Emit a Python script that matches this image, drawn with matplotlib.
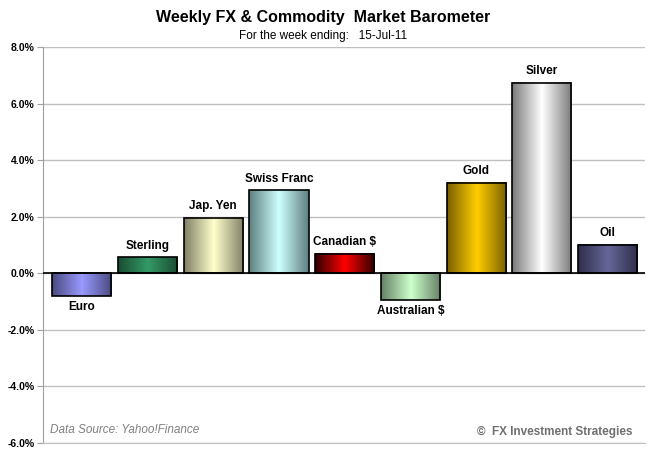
import numpy as np
import matplotlib
matplotlib.use("Agg")
import matplotlib.pyplot as plt
from matplotlib.colors import LinearSegmentedColormap

names = ["Euro", "Sterling", "Jap. Yen", "Swiss Franc", "Canadian $",
         "Australian $", "Gold", "Silver", "Oil"]
changes = [-0.81, 0.56, 1.97, 2.93, 0.68, -0.94, 3.20, 6.72, 1.00]
edge_cols = ["#4a4a80", "#1a4d33", "#808066", "#5f7f7f", "#300000",
             "#668066", "#7a6200", "#7a7a7a", "#2e2e4a"]
mid_cols = ["#9999ff", "#339966", "#ffffcc", "#ccffff", "#ff0000",
            "#ccffcc", "#ffcc00", "#ffffff", "#666699"]
yticks = [-6, -4, -2, 0, 2, 4, 6, 8]

plt.rcParams['font.family'] = ['Liberation Sans', 'DejaVu Sans']

fig = plt.figure(figsize=(6.47, 4.58), dpi=100)
ax = fig.add_axes([0.0665, 0.0328, 0.9305, 0.8646])

width = 0.9
x = np.arange(len(names))
grad = 1 - np.abs(np.linspace(-1, 1, 200))[None, :]

for i, v in enumerate(changes):
    cmap = LinearSegmentedColormap.from_list("g", [edge_cols[i], mid_cols[i]])
    x0, x1 = i - width / 2, i + width / 2
    ax.imshow(grad, cmap=cmap, extent=[x0, x1, min(0, v), max(0, v)],
              aspect='auto', zorder=3, interpolation='bilinear')
ax.bar(x, changes, width=width, facecolor='none', edgecolor='black',
       linewidth=1.2, zorder=4)

for i, v in enumerate(changes):
    if v >= 0:
        ax.text(i, v + 0.42, names[i], ha='center', va='center',
                fontsize=8.5, fontweight='bold', zorder=5)
    else:
        ax.text(i, v - 0.40, names[i], ha='center', va='center',
                fontsize=8.5, fontweight='bold', zorder=5)

ax.axhline(0, color='black', lw=1.2, zorder=4)
ax.set_xlim(-0.59, 8.57)
ax.set_ylim(-6, 8)
ax.set_yticks(yticks)
ax.set_yticklabels([f"{t:.1f}%" for t in yticks], fontsize=7.5, fontweight='bold')
ax.yaxis.grid(True, color='#c0c0c0', lw=1)
ax.set_axisbelow(True)
ax.set_xticks([])
for s in ['top', 'right']:
    ax.spines[s].set_visible(False)
ax.spines['bottom'].set_color('#c0c0c0')
ax.spines['left'].set_color('#a0a0a0')
ax.tick_params(axis='y', color='#a0a0a0', length=4, pad=2)

fig.text(0.5, 0.962, "Weekly FX & Commodity  Market Barometer", ha='center',
         va='center', fontsize=11.5, fontweight='bold')
fig.text(0.5, 0.922, "For the week ending:   15-Jul-11", ha='center',
         va='center', fontsize=8.5)
fig.text(0.077, 0.061, "Data Source: Yahoo!Finance", ha='left', va='center',
         fontsize=8.5, style='italic', color='#808080')
fig.text(0.977, 0.056, "\u00a9  FX Investment Strategies", ha='right', va='center',
         fontsize=8.5, fontweight='bold', color='#707070')

plt.savefig("out.png", dpi=100)
